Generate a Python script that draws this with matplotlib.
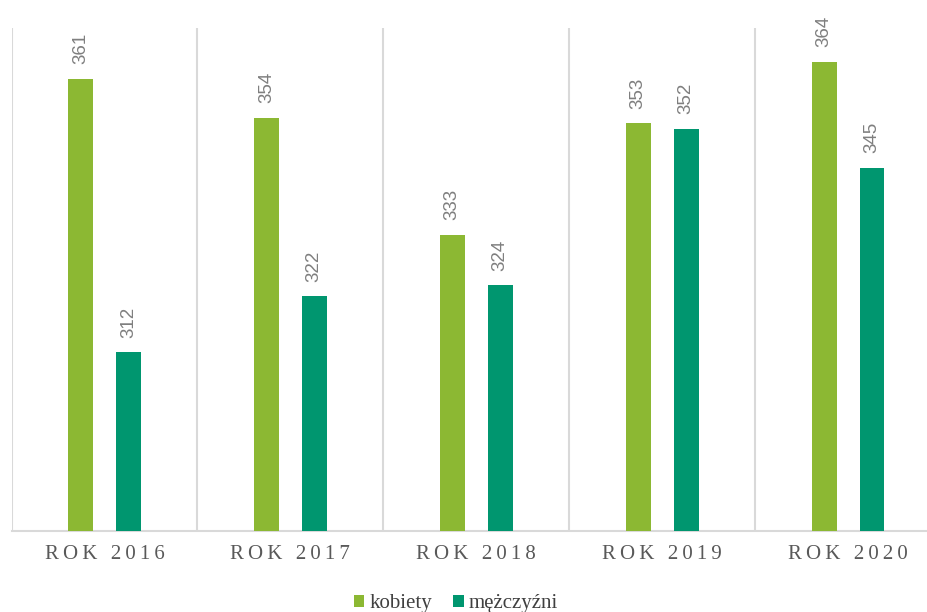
import matplotlib.pyplot as plt
import numpy as np

# data
years = ['ROK 2016', 'ROK 2017', 'ROK 2018', 'ROK 2019', 'ROK 2020']
kobiety = [361, 354, 333, 353, 364]
mezczyzni = [312, 322, 324, 352, 345]

GREEN = '#8cb833'
TEAL = '#00966f'
GRID = '#d9d9d9'

serif = ['Liberation Serif', 'DejaVu Serif']


def spaced(s):
    # letter spacing like the original (thin space between characters)
    return '\u2009'.join(s)


fig = plt.figure(figsize=(9.27, 6.12), dpi=100)
ax = fig.add_axes([11.5 / 927, 81 / 612, 929.5 / 927, 502.7 / 612])

x = np.arange(len(years))
w = 0.134
off = 0.129
b1 = ax.bar(x - off, kobiety, w, color=GREEN, label='kobiety', zorder=3)
b2 = ax.bar(x + off, mezczyzni, w, color=TEAL, label='mężczyźni', zorder=3)

for bars in (b1, b2):
    for rect in bars:
        h = rect.get_height()
        ax.annotate(str(int(h)), (rect.get_x() + rect.get_width() / 2, h),
                    xytext=(0, 10.5), textcoords='offset points',
                    rotation=90, ha='center', va='bottom',
                    fontsize=13.5, color='#7f7f7f', family='Liberation Sans')

ax.set_xlim(-0.5, 4.5)
ax.set_ylim(280, 370)
ax.set_yticks([])

ax.set_xticks(x)
ax.set_xticklabels([spaced(y) for y in years], family=serif,
                   fontsize=15, color='#595959')
ax.tick_params(axis='x', length=0, pad=10)
ax.set_xticks(np.arange(-0.5, 5, 1), minor=True)
ax.tick_params(axis='x', which='minor', length=0)
ax.grid(which='minor', axis='x', color=GRID, lw=1.5, zorder=0)

for s in ['top', 'right', 'left']:
    ax.spines[s].set_visible(False)
ax.spines['bottom'].set_color(GRID)
ax.spines['bottom'].set_linewidth(1.5)

fig.legend(handles=[b1, b2], loc='center', bbox_to_anchor=(456 / 927, 8.5 / 612),
           ncol=2, frameon=False, prop={'family': serif, 'size': 15},
           handlelength=0.5, handleheight=0.5, handletextpad=0.25,
           columnspacing=1.0, borderpad=0, labelcolor='#404040')

fig.savefig('out.png', dpi=100)
